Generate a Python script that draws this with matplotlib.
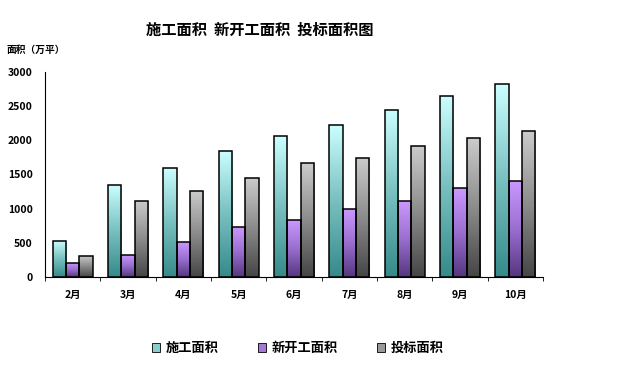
import numpy as np
import matplotlib.pyplot as plt
from matplotlib.colors import LinearSegmentedColormap

plt.rcParams['font.family'] = ['Noto Sans CJK SC', 'DejaVu Sans']

months = ['2月', '3月', '4月', '5月', '6月', '7月', '8月', '9月', '10月']
shigong = [527, 1346, 1595, 1849, 2058, 2224, 2444, 2649, 2815]    # 施工面积
xinkaigong = [210, 322, 512, 732, 834, 995, 1112, 1302, 1405]      # 新开工面积
toubiao = [307, 1112, 1258, 1454, 1668, 1741, 1917, 2034, 2137]    # 投标面积
names = ['施工面积', '新开工面积', '投标面积']

# 渐变色 (下深上浅)
cmaps = [
    LinearSegmentedColormap.from_list('c', ['#358a8a', '#79c0c0', '#ccffff']),
    LinearSegmentedColormap.from_list('p', ['#55367f', '#9a6fd0', '#cc99ff']),
    LinearSegmentedColormap.from_list('g', ['#454545', '#8c8c8c', '#cccccc']),
]

fig = plt.figure(figsize=(6.19, 3.76), dpi=100)
ax = fig.add_axes([0.0727, 0.263, 0.8046, 0.546])

x = np.arange(len(months))
w = 0.24
grad = np.linspace(0, 1, 256).reshape(-1, 1)
handles = []
for k, vals in enumerate([shigong, xinkaigong, toubiao]):
    bars = ax.bar(x + (k - 1) * w, vals, w, facecolor='none', edgecolor='black',
                  linewidth=1.1, zorder=3)
    for b in bars:
        im = ax.imshow(grad, cmap=cmaps[k], aspect='auto', origin='lower',
                       extent=[b.get_x(), b.get_x() + w, 0, b.get_height()], zorder=2)
        im.set_clip_path(b)
    h = ax.bar([0], [0], color=cmaps[k](0.6), edgecolor='black', linewidth=0.6)
    handles.append(h)

ax.set_xlim(-0.5, len(months) - 0.5)
ax.set_ylim(0, 3000)
ax.set_yticks([0, 500, 1000, 1500, 2000, 2500, 3000])
ax.set_xticks(x)
ax.set_xticklabels(months, fontweight='bold', fontsize=7.5)
ax.set_xticks(np.arange(len(months) + 1) - 0.5, minor=True)
ax.tick_params(axis='x', which='major', length=0, pad=9)
ax.tick_params(axis='x', which='minor', length=3, direction='out')
ax.tick_params(axis='y', length=0, pad=9)
for t in ax.get_yticklabels():
    t.set_fontweight('bold')
    t.set_fontsize(7.5)
ax.spines['top'].set_visible(False)
ax.spines['right'].set_visible(False)

fig.text(0.42, 0.92, '施工面积  新开工面积  投标面积图', ha='center', va='center',
         fontsize=11, fontweight='bold')
fig.text(0.011, 0.867, '面积（万平）', ha='left', va='center', fontsize=7, fontweight='bold')

fig.legend(handles, names, loc='center', bbox_to_anchor=(0.481, 0.074), ncol=3,
           frameon=False, prop={'weight': 'bold', 'size': 9.5},
           handlelength=0.6, handleheight=0.6, columnspacing=3, handletextpad=0.4)

plt.savefig('out.png', dpi=100)
